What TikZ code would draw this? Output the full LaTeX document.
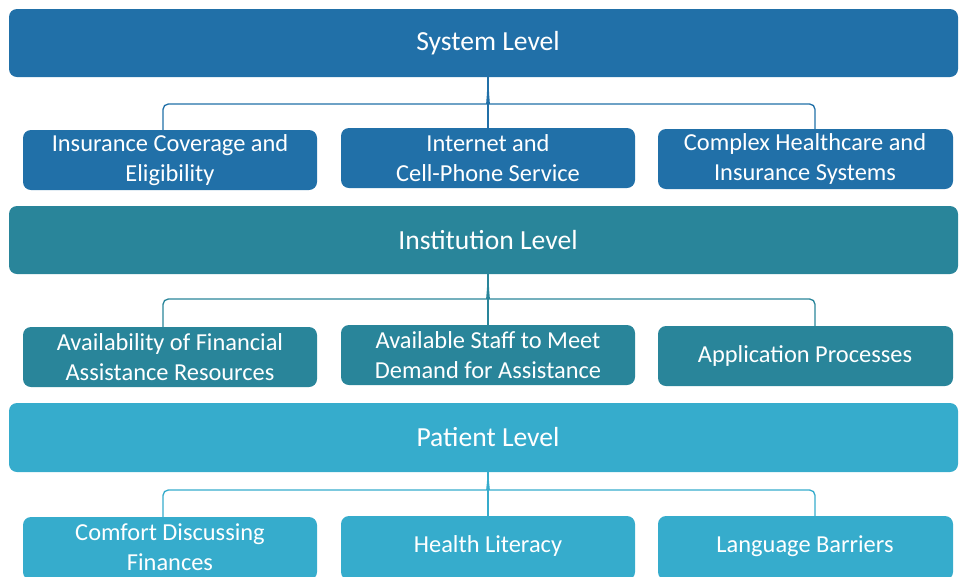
\documentclass[tikz,border=0pt]{standalone}
\usepackage{fontspec}
\setmainfont{Carlito}
\definecolor{sysc}{HTML}{2170A8}
\definecolor{insc}{HTML}{29859A}
\definecolor{patc}{HTML}{36ACCC}
\begin{document}
\begin{tikzpicture}[x=0.75pt,y=-0.75pt,
  bartext/.style={text=white, font=\fontsize{20.7}{24}\selectfont},
  child/.style={draw=none, text=white, align=center, font=\fontsize{18.3}{22.5}\selectfont},
  boxfill/.style={rounded corners=6pt},
  link/.style={line width=1pt, rounded corners=4pt}]
\useasboundingbox (0,0) rectangle (959,576);
% bars
\path[boxfill, fill=sysc] (9,9) rectangle (958,77);
\node[bartext] (sys) at (488,43) {System Level};
\path[boxfill, fill=insc] (9,206) rectangle (958,274);
\node[bartext] (ins) at (488,240) {Institution Level};
\path[boxfill, fill=patc] (9,403) rectangle (958,472);
\node[bartext] (pat) at (488,437) {Patient Level};
% coordinates
\coordinate (sb) at (488,77);
\coordinate (ib) at (488,274);
\coordinate (pb) at (488,472);
% row 1
\path[boxfill, fill=sysc] (23,130) rectangle (317,190);
\node[child] (s1) at (170,160) {Insurance Coverage and\\Eligibility};
\path[boxfill, fill=sysc] (341,128) rectangle (635,188);
\node[child] (s2) at (488,158) {Internet and\\Cell-Phone Service};
\path[boxfill, fill=sysc] (658,129) rectangle (953,189);
\node[child] (s3) at (805,159) {Complex Healthcare and\\Insurance Systems};
% row 2
\path[boxfill, fill=insc] (23,327) rectangle (317,387);
\node[child] (i1) at (170,357) {Availability of Financial\\Assistance Resources};
\path[boxfill, fill=insc] (341,325) rectangle (635,385);
\node[child] (i2) at (488,355) {Available Staff to Meet\\Demand for Assistance};
\path[boxfill, fill=insc] (658,326) rectangle (953,386);
\node[child] (i3) at (805,356) {Application Processes};
% row 3
\path[boxfill, fill=patc] (23,517) rectangle (317,580);
\node[child] (p1) at (170,547) {Comfort Discussing\\Finances};
\path[boxfill, fill=patc] (341,516) rectangle (635,580);
\node[child] (p2) at (488,546) {Health Literacy};
\path[boxfill, fill=patc] (658,516) rectangle (953,580);
\node[child] (p3) at (805,546) {Language Barriers};
% connectors
\coordinate (s1t) at (163,130); \coordinate (s2t) at (488,128); \coordinate (s3t) at (815,129);
\draw[link, draw=sysc] (s1t) -- (163,104) -- (482,104) .. controls (486,104) and (488,100) .. (sb);
\draw[link, draw=sysc] (s3t) -- (815,104) -- (494,104) .. controls (490,104) and (488,100) .. (sb);
\draw[line width=1pt, draw=sysc] (s2t) -- (sb);
\coordinate (i1t) at (163,327); \coordinate (i2t) at (488,325); \coordinate (i3t) at (815,326);
\draw[link, draw=insc] (i1t) -- (163,299) -- (482,299) .. controls (486,299) and (488,295) .. (ib);
\draw[link, draw=insc] (i3t) -- (815,299) -- (494,299) .. controls (490,299) and (488,295) .. (ib);
\draw[line width=1pt, draw=insc] (i2t) -- (ib);
\coordinate (p1t) at (163,517); \coordinate (p2t) at (488,516); \coordinate (p3t) at (815,516);
\draw[link, draw=patc] (p1t) -- (163,490) -- (482,490) .. controls (486,490) and (488,486) .. (pb);
\draw[link, draw=patc] (p3t) -- (815,490) -- (494,490) .. controls (490,490) and (488,486) .. (pb);
\draw[line width=1pt, draw=patc] (p2t) -- (pb);
\end{tikzpicture}
\end{document}
